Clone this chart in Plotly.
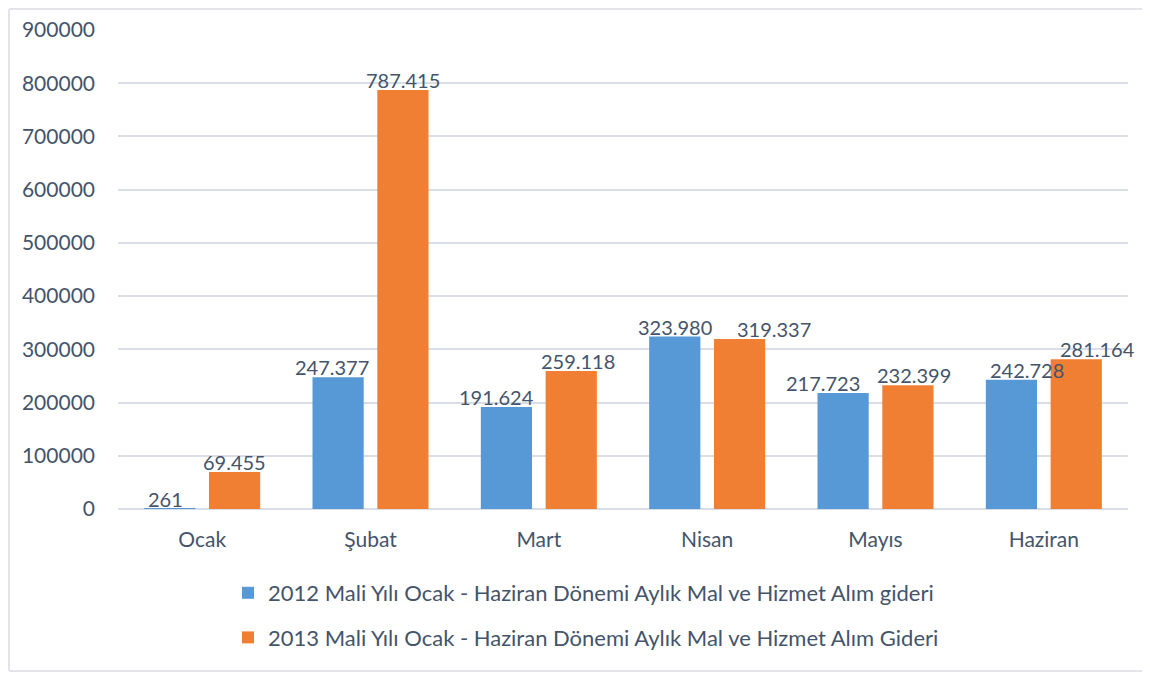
import plotly.graph_objects as go

months = ["Ocak", "Şubat", "Mart", "Nisan", "Mayıs", "Haziran"]
series_2012 = [261, 247377, 191624, 323980, 217723, 242728]
series_2013 = [69455, 787415, 259118, 319337, 232399, 281164]
name_2012 = "2012 Mali Yılı Ocak - Haziran Dönemi Aylık Mal ve Hizmet Alım gideri"
name_2013 = "2013 Mali Yılı Ocak - Haziran Dönemi Aylık Mal ve Hizmet Alım Gideri"
y_ticks = [0, 100000, 200000, 300000, 400000, 500000, 600000, 700000, 800000, 900000]

# label pixel offsets from category centre (style only)
label_dx_2012 = [-37, -39, -42, -32, -53, -17]
label_dx_2013 = [32, 32, 39, 67, 38, 54]

TXT = "#44546A"
FONT = "Lato"

def fmt(v):
    return f"{v:,}".replace(",", ".")

fig = go.Figure()
fig.add_trace(go.Bar(
    x=months, y=series_2012, name=name_2012, legendgroup="a",
    marker=dict(color="#5699D6", line=dict(width=0)),
))
fig.add_trace(go.Bar(
    x=months, y=series_2013, name=name_2013, legendgroup="b",
    marker=dict(color="#F07F34", line=dict(width=0)),
))

annotations = []
for vals, dxs in ((series_2012, label_dx_2012), (series_2013, label_dx_2013)):
    for m, v, dx in zip(months, vals, dxs):
        annotations.append(dict(
            x=m, y=v, xref="x", yref="y", text=fmt(v), showarrow=False,
            xanchor="center", yanchor="bottom", xshift=dx, yshift=-4,
            font=dict(color=TXT, size=20, family=FONT),
        ))

W, H = 1142, 665
ml, mr, mt, mb = 110, 22, 22, 164
pw, ph = W - ml - mr, H - mt - mb

def px(x):
    return (x - 8 - ml) / pw

def py(y):
    return (H - mb - (y - 8)) / ph

fig.update_layout(
    width=W, height=H,
    margin=dict(l=ml, r=mr, t=mt, b=mb, autoexpand=False),
    paper_bgcolor="white", plot_bgcolor="white",
    barmode="group", bargap=0.23, bargroupgap=0.21,
    font=dict(family=FONT, color=TXT, size=21),
    showlegend=True,
    annotations=annotations,
    legend=dict(
        orientation="v", x=px(586), xanchor="center", y=py(572), yanchor="top",
        font=dict(size=22, color=TXT, family=FONT),
        itemwidth=30, tracegroupgap=13, bgcolor="rgba(0,0,0,0)",
    ),
    xaxis=dict(
        range=[-0.5, len(months) - 0.5], autorange=False,
        showgrid=False, showline=False, ticks="", tickfont=dict(size=21, color=TXT),
        ticklabelstandoff=16,
    ),
    yaxis=dict(
        range=[0, 900000], autorange=False, tickvals=y_ticks, tickformat="d",
        showgrid=True, gridcolor="#D9DEE6", gridwidth=1.5,
        zeroline=True, zerolinecolor="#D9DEE6", zerolinewidth=1.5,
        showline=False, ticks="", tickfont=dict(size=21, color=TXT),
        ticklabelstandoff=22,
    ),
    shapes=[
        dict(type="line", xref="paper", yref="paper",
             x0=px(9), x1=px(9), y0=py(671), y1=py(9),
             line=dict(color="#E2E4E8", width=2), layer="below"),
        dict(type="line", xref="paper", yref="paper",
             x0=px(9), x1=px(1150), y0=py(671), y1=py(671),
             line=dict(color="#E2E4E8", width=2), layer="below"),
        dict(type="line", xref="paper", yref="paper",
             x0=px(9), x1=px(1150), y0=py(9), y1=py(9),
             line=dict(color="#E2E4E8", width=2), layer="below"),
    ],
)

fig.write_html("out.html")
